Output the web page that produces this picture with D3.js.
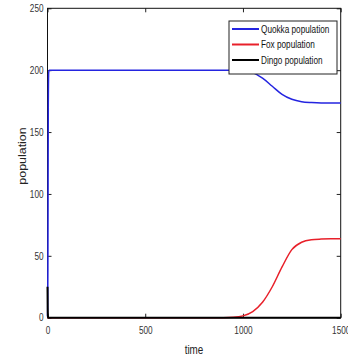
<!DOCTYPE html>
<html>
<head>
<meta charset="utf-8">
<script src="https://cdn.jsdelivr.net/npm/d3@7"></script>
<style>
  body { margin: 0; background: #fff; }
  svg { display: block; }
  .tick text { font-family: "Liberation Sans", Arial, sans-serif; font-size: 10px; fill: #333; }
  .legend-label { font-family: "Liberation Sans", Arial, sans-serif; font-size: 10px; fill: #111; }
</style>
</head>
<body>
<svg id="chart" width="348" height="361"></svg>
<script>
// Data
const time   = [0, 1, 2, 3, 4, 6, 8, 500, 900, 950, 1000, 1050, 1100, 1150, 1200, 1250, 1300, 1350, 1400, 1450, 1500];
const quokka = [1, 10, 40, 110, 170, 198, 200, 200, 200, 200, 199.5, 198, 193.5, 187, 180.5, 176.5, 174.5, 173.8, 173.5, 173.5, 173.5];
const fox    = [0, 0, 0, 0, 0, 0, 0, 0, 0, 0.3, 1.5, 5, 12.5, 25, 41, 55, 61, 63, 63.5, 63.7, 63.7];
const dingo  = [25, 8, 2, 0.5, 0, 0, 0, 0, 0, 0, 0, 0, 0, 0, 0, 0, 0, 0, 0, 0, 0];

const xTicks = [0, 500, 1000, 1500];
const yTicks = [0, 50, 100, 150, 200, 250];

const seriesNames = ['Quokka population', 'Fox population', 'Dingo population'];
const seriesColours = ['#2424e0', '#e8202a', '#000000'];
const seriesValues = [quokka, fox, dingo];

const svg = d3.select('#chart');

// Plot box
const box = { left: 47.5, right: 340.7, top: 8.3, bottom: 317.7 };

const x = d3.scaleLinear().domain([0, 1500]).range([box.left, box.right]);
const y = d3.scaleLinear().domain([0, 250]).range([box.bottom, box.top]);

// Squeeze text horizontally to mimic the narrow font of the original
function narrow(sel, k = 0.82) {
    sel.each(function() {
        const w = this.getComputedTextLength();
        d3.select(this)
            .attr('textLength', w * k)
            .attr('lengthAdjust', 'spacingAndGlyphs');
    });
}

// Axes (MATLAB style, ticks inside)
const xAxis = d3.axisBottom(x).tickValues(xTicks).tickFormat(d3.format('d'))
    .tickSizeInner(-4).tickSizeOuter(0).tickPadding(9);
const yAxis = d3.axisLeft(y).tickValues(yTicks).tickFormat(d3.format('d'))
    .tickSizeInner(-4).tickSizeOuter(0).tickPadding(4);

svg.append('g')
    .attr('transform', `translate(0, ${box.bottom})`)
    .call(xAxis);

svg.append('g')
    .attr('transform', `translate(${box.left}, 0)`)
    .call(yAxis);

svg.append('g')
    .attr('transform', `translate(0, ${box.top})`)
    .call(d3.axisTop(x).tickValues(xTicks).tickSizeInner(-4).tickSizeOuter(0).tickFormat(''));

svg.append('g')
    .attr('transform', `translate(${box.right}, 0)`)
    .call(d3.axisRight(y).tickValues(yTicks).tickSizeInner(-4).tickSizeOuter(0).tickFormat(''));

svg.selectAll('.domain').remove();
svg.selectAll('.tick line').attr('stroke', '#222');
svg.selectAll('.tick text').call(narrow);

svg.append('rect')
    .attr('x', box.left)
    .attr('y', box.top)
    .attr('width', box.right - box.left)
    .attr('height', box.bottom - box.top)
    .attr('fill', 'none')
    .attr('stroke', '#111')
    .attr('stroke-width', 1);

// Lines
const line = d3.line()
    .x((d, i) => x(time[i]))
    .y(d => y(d))
    .curve(d3.curveMonotoneX);

seriesValues.forEach((values, i) => {
    svg.append('path')
        .datum(values)
        .attr('fill', 'none')
        .attr('stroke', seriesColours[i])
        .attr('stroke-width', i === 2 ? 2 : 1.5)
        .attr('d', line);
});

// Axis labels
svg.append('text')
    .attr('x', 194)
    .attr('y', 354)
    .attr('text-anchor', 'middle')
    .style('font-family', '"Liberation Sans", Arial, sans-serif')
    .style('font-size', '12px')
    .style('fill', '#222')
    .text('time')
    .call(narrow);

svg.append('text')
    .attr('transform', 'translate(26, 156) rotate(-90)')
    .attr('text-anchor', 'middle')
    .style('font-family', '"Liberation Sans", Arial, sans-serif')
    .style('font-size', '11.5px')
    .style('fill', '#222')
    .text('population')
    .call(narrow, 1.08);

// Legend
const legend = svg.append('g').attr('class', 'legend-container');

legend.append('rect')
    .attr('x', 229)
    .attr('y', 21)
    .attr('width', 108)
    .attr('height', 53)
    .attr('fill', '#fff')
    .attr('stroke', '#222')
    .attr('stroke-width', 1);

seriesNames.forEach((name, i) => {
    const rowY = 29 + i * 15.5;
    legend.append('line')
        .attr('x1', 232)
        .attr('x2', 259)
        .attr('y1', rowY)
        .attr('y2', rowY)
        .attr('stroke', seriesColours[i])
        .attr('stroke-width', 2);
    legend.append('text')
        .attr('class', 'legend-label')
        .attr('x', 261)
        .attr('y', rowY + 3.5)
        .text(name)
        .call(narrow);
});
</script>
</body>
</html>
